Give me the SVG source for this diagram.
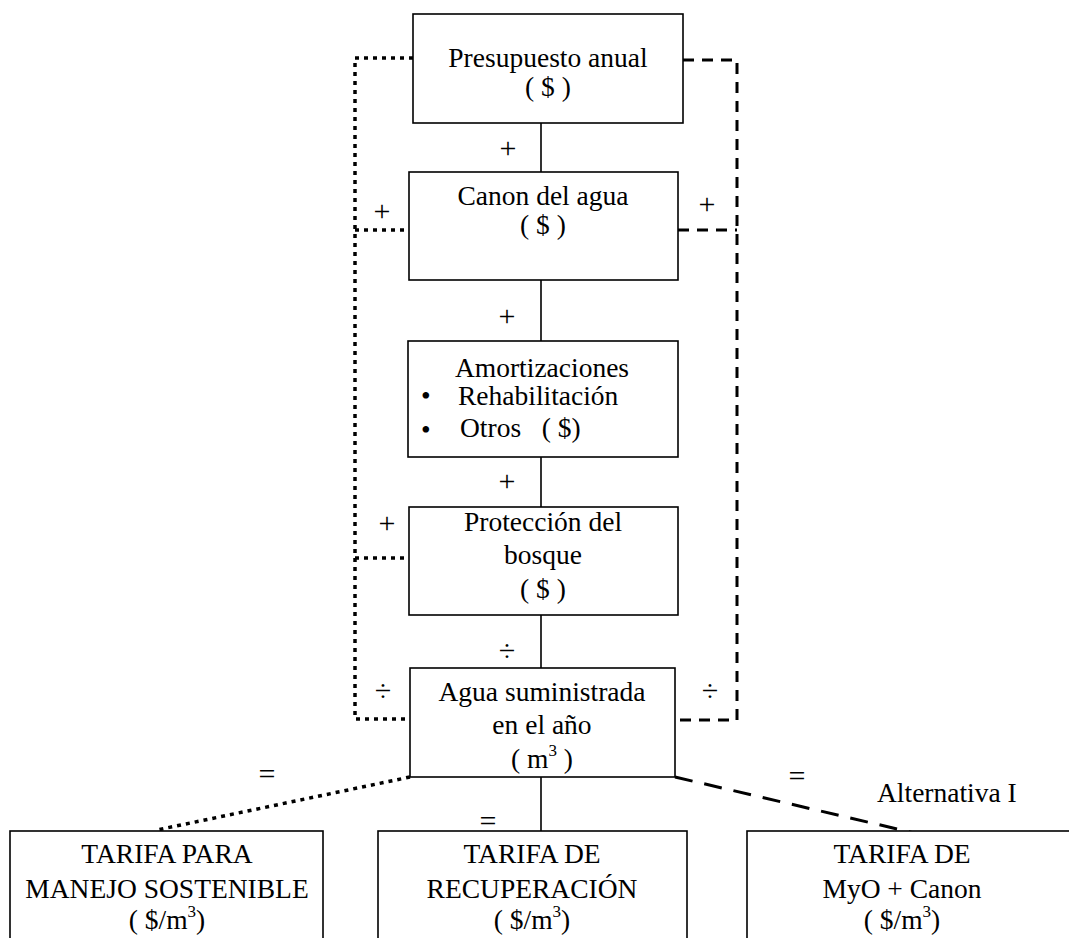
<svg xmlns="http://www.w3.org/2000/svg" width="1069" height="938" viewBox="0 0 1069 938">
<style>
.box{fill:#fff;stroke:#000;stroke-width:1.6}
text{font-family:'Liberation Serif','Times New Roman',serif;fill:#000}
.t{font-size:27.5px;text-anchor:middle}
.tl{font-size:27.5px}
.op{font-size:30px;text-anchor:middle;dominant-baseline:central}
.solid{fill:none;stroke:#000;stroke-width:1.6}
.dot{fill:none;stroke:#000;stroke-width:3.5;stroke-dasharray:4 5}
.dash{fill:none;stroke:#000;stroke-width:3;stroke-dasharray:11 8}
.dash2{fill:none;stroke:#000;stroke-width:3;stroke-dasharray:18 12}
</style>
<rect width="1069" height="938" fill="#fff"/>
<g id="connectors">
<path class="solid" d="M541,123V172M541,280V341M541,457V507M541,615V668M541,777V831"/>
<path class="dot" d="M413,58H355V719H410M355,230H409M355,558H409"/>
<path class="dot" d="M410,777L157,830"/>
<path class="dash" d="M683,60H737V720H675M678,230H737"/>
<path class="dash2" d="M675,777L923,835"/>
<text class="op" x="508" y="147">+</text>
<text class="op" x="382" y="210">+</text>
<text class="op" x="707" y="203">+</text>
<text class="op" x="507" y="315">+</text>
<text class="op" x="507" y="480">+</text>
<text class="op" x="387" y="522">+</text>
<text class="op" x="507" y="650">÷</text>
<text class="op" x="383" y="690">÷</text>
<text class="op" x="710" y="690">÷</text>
<text class="op" x="267" y="773">=</text>
<text class="op" x="488" y="820">=</text>
<text class="op" x="797" y="775">=</text>
</g>
<g id="presupuesto">
<rect class="box" x="413" y="14" width="270" height="109"/>
<text class="t" x="548" y="67">Presupuesto anual</text>
<text class="t" x="548" y="96">( $ )</text>
</g>
<g id="canon">
<rect class="box" x="409" y="172" width="269" height="108"/>
<text class="t" x="543" y="205">Canon del agua</text>
<text class="t" x="543" y="234">( $ )</text>
</g>
<g id="amortizaciones">
<rect class="box" x="408" y="341" width="270" height="116"/>
<text class="t" x="542" y="377">Amortizaciones</text>
<text class="tl" x="421" y="405" font-size="18">•</text>
<text class="tl" x="458" y="405">Rehabilitación</text>
<text class="tl" x="421" y="439" font-size="18">•</text>
<text class="tl" x="460" y="437" xml:space="preserve">Otros   ( $)</text>
</g>
<g id="proteccion">
<rect class="box" x="409" y="507" width="269" height="108"/>
<text class="t" x="543" y="531">Protección del</text>
<text class="t" x="543" y="564">bosque</text>
<text class="t" x="543" y="598">( $ )</text>
</g>
<g id="agua">
<rect class="box" x="410" y="668" width="265" height="109"/>
<text class="t" x="542" y="701">Agua suministrada</text>
<text class="t" x="542" y="734">en el año</text>
<text class="t" x="542" y="768">( m<tspan font-size="17" dy="-12">3</tspan><tspan dy="12"> )</tspan></text>
</g>
<g id="tarifa-manejo">
<rect class="box" x="10" y="831" width="313" height="115"/>
<text class="t" x="167" y="863">TARIFA PARA</text>
<text class="t" x="167" y="898">MANEJO SOSTENIBLE</text>
<text class="t" x="167" y="929">( $/m<tspan font-size="17" dy="-12">3</tspan><tspan dy="12">)</tspan></text>
</g>
<g id="tarifa-recuperacion">
<rect class="box" x="378" y="831" width="309" height="115"/>
<text class="t" x="532" y="863">TARIFA DE</text>
<text class="t" x="532" y="898">RECUPERACIÓN</text>
<text class="t" x="532" y="929">( $/m<tspan font-size="17" dy="-12">3</tspan><tspan dy="12">)</tspan></text>
</g>
<g id="tarifa-myo">
<rect class="box" x="747" y="831" width="330" height="115"/>
<text class="t" x="902" y="863">TARIFA DE</text>
<text class="t" x="902" y="898">MyO + Canon</text>
<text class="t" x="902" y="929">( $/m<tspan font-size="17" dy="-12">3</tspan><tspan dy="12">)</tspan></text>
</g>
<g id="alternativa">
<text class="tl" x="877" y="802" font-size="30">Alternativa I</text>
</g>
</svg>
